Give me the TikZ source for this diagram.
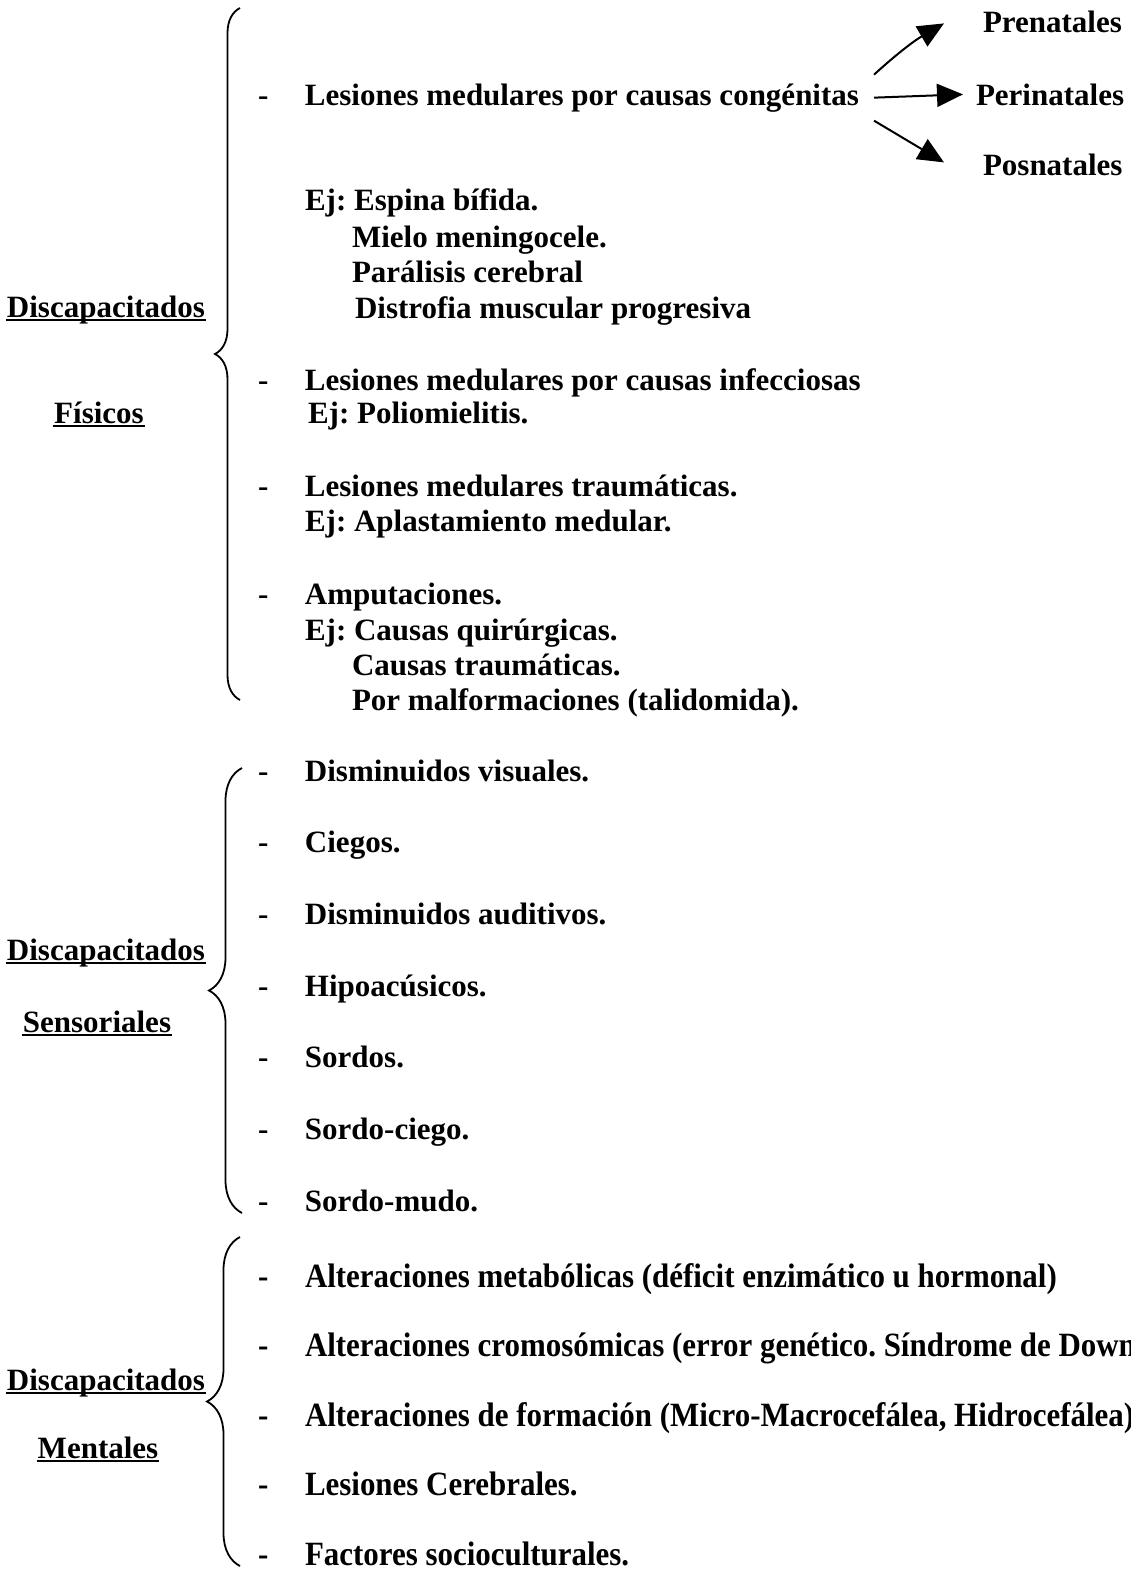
\documentclass[tikz,border=0pt]{standalone}
\usepackage{fontspec}
\setmainfont{Liberation Serif}
\newfontfamily\angosta{Liberation Serif}[FakeStretch=0.91]
\usetikzlibrary{arrows.meta,decorations.pathreplacing,positioning}

\newcommand{\guion}[1]{\makebox[47pt][l]{-}#1}

\begin{document}
\frenchspacing
\begin{tikzpicture}[
	x = 1pt, y = -1pt, % one unit per pixel of the sheet
	> = {Triangle[length=26pt,width=23pt]}, % arrow head style
	line width = 2pt, % line style
	font = \bfseries\fontsize{31}{36}\selectfont,
	every node/.style = {inner sep=0pt},
	entry/.style = {anchor=base west},
	titulo/.style = {anchor=base},
	llave/.style = {decorate, decoration={brace, amplitude=#1}, line width=1.8pt}
	]
	
	\useasboundingbox (0,0) rectangle (1130,1574);
	\clip (0,0) rectangle (1130,1574);
	
	% fisicos
	\node[titulo] (d1) at (106,317) {Discapacitados};
	\node[titulo] (f1) at (99,423) {Físicos};
	
	\node[entry] (c1) at (257,105) {\guion{Lesiones medulares por causas congénitas}};
	\node[entry] (e1) at (304,210) {Ej: Espina bífida.};
	\node[entry] (e2) at (351,247) {Mielo meningocele.};
	\node[entry] (e3) at (351,282) {Parálisis cerebral};
	\node[entry] (e4) at (354,318) {Distrofia muscular progresiva};
	\node[entry] (c2) at (257,390) {\guion{Lesiones medulares por causas infecciosas}};
	\node[entry] (e5) at (307,423) {Ej: Poliomielitis.};
	\node[entry] (c3) at (257,496) {\guion{Lesiones medulares traumáticas.}};
	\node[entry] (e6) at (304,531) {Ej: Aplastamiento medular.};
	\node[entry] (c4) at (257,604) {\guion{Amputaciones.}};
	\node[entry] (e7) at (304,640) {Ej: Causas quirúrgicas.};
	\node[entry] (e8) at (351,675) {Causas traumáticas.};
	\node[entry] (e9) at (351,710) {Por malformaciones (talidomida).};
	
	\node[entry] (pre) at (982,32) {Prenatales};
	\node[entry] (peri) at (975,105) {Perinatales};
	\node[entry] (pos) at (982,175) {Posnatales};
	
	\draw[->] ([xshift=14pt,yshift=23pt]c1.east) to[bend left=6] ([xshift=-38pt,yshift=-2pt]pre.west);
	\draw[->] ([xshift=14pt]c1.east) -- ([xshift=-12pt]peri.west);
	\draw[->] ([xshift=14pt,yshift=-23pt]c1.east) -- ([xshift=-38pt,yshift=2pt]pos.west);
	
	\coordinate (l1a) at (240,700);
	\coordinate (l1b) at (240,8);
	\draw[llave=25pt] (l1a) -- (l1b);
	
	% sensoriales
	\node[titulo] (d2) at (106,960) {Discapacitados};
	\node[titulo] (s2) at (97,1032) {Sensoriales};
	
	\foreach \t [count=\i] in {Disminuidos visuales., Ciegos., Disminuidos auditivos.,
		Hipoacúsicos., Sordos., Sordo-ciego., Sordo-mudo.}
	\node[entry] (sen\i) at (257,{781+71.67*(\i-1)}) {\guion{\t}};
	
	\coordinate (l2a) at (242,1213);
	\coordinate (l2b) at (242,768);
	\draw[llave=33pt] (l2a) -- (l2b);
	
	% mentales
	\node[titulo] (d3) at (106,1390) {Discapacitados};
	\node[titulo] (m3) at (98,1458) {Mentales};
	
	\foreach \t [count=\i] in {Alteraciones metabólicas (déficit enzimático u hormonal),
		Alteraciones cromosómicas (error genético. Síndrome de Down),
		{Alteraciones de formación (Micro-Macrocefálea, Hidrocefálea)},
		Lesiones Cerebrales., Factores socioculturales.}
	\node[entry, font=\angosta\bfseries\fontsize{34}{36}\selectfont] (men\i) at (257,{1287+69.5*(\i-1)}) {\guion{\t}};
	
	\coordinate (l3a) at (240,1566);
	\coordinate (l3b) at (240,1237);
	\draw[llave=33pt] (l3a) -- (l3b);
	
	% subrayado
	\foreach \n in {d1,f1,d2,s2,d3,m3}
	\draw[line width=1.6pt] ([yshift=-3pt]\n.base west) -- ([yshift=-3pt]\n.base east);
	
\end{tikzpicture}
\end{document}
